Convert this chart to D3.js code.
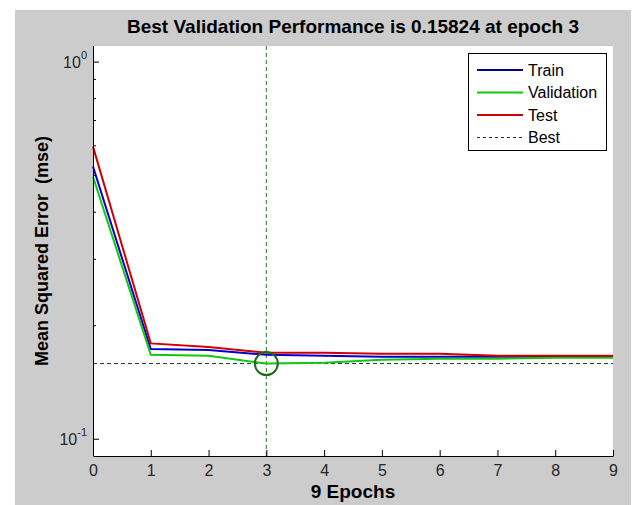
<!DOCTYPE html>
<html>
<head>
<meta charset="utf-8">
<script src="https://cdn.jsdelivr.net/npm/d3@7"></script>
<style>
  body { margin: 0; background: #ffffff; }
  svg { display: block; font-family: "Liberation Sans", Arial, sans-serif; }
</style>
</head>
<body>
<script>
// data
var epochs = [0, 1, 2, 3, 4, 5, 6, 7, 8, 9]
var train = [0.527, 0.173, 0.172, 0.167, 0.166, 0.165, 0.165, 0.165, 0.165, 0.165]
var validation = [0.495, 0.167, 0.166, 0.15824, 0.159, 0.162, 0.163, 0.163, 0.164, 0.164]
var test = [0.595, 0.179, 0.175, 0.169, 0.169, 0.168, 0.168, 0.166, 0.166, 0.166]
var bestEpoch = 3
var bestValue = 0.15824
var yMajor = [0.1, 1]
var yMajorExp = ["-1", "0"]
var yMinor = [0.2, 0.3, 0.4, 0.5, 0.6, 0.7, 0.8, 0.9]
var legendNames = ["Train", "Validation", "Test", "Best"]

var w = 635
var h = 505

var svg = d3.select("body")
  .append("svg")
  .attr("width", w)
  .attr("height", h)

// gray figure panel
svg.append("rect")
  .attr("x", 15).attr("y", 10)
  .attr("width", 616).attr("height", 495)
  .attr("fill", "#cccccc")

// axes box
var axL = 93, axR = 613, axT = 46, axB = 456

svg.append("rect")
  .attr("x", axL).attr("y", axT)
  .attr("width", axR - axL).attr("height", axB - axT)
  .attr("fill", "#ffffff")

var xScale = d3.scaleLinear()
  .domain([0, 9])
  .range([axL, axR])
var yScale = d3.scaleLog()
  .domain([0.09, 1.1])
  .range([axB, axT])

// best lines
svg.append("line")
  .attr("x1", xScale(bestEpoch)).attr("x2", xScale(bestEpoch))
  .attr("y1", axT).attr("y2", axB)
  .attr("stroke", "#1f7f1f")
  .attr("stroke-width", 1)
  .attr("stroke-dasharray", "4,3")
svg.append("line")
  .attr("x1", axL).attr("x2", axR)
  .attr("y1", yScale(bestValue)).attr("y2", yScale(bestValue))
  .attr("stroke", "#203520")
  .attr("stroke-width", 1)
  .attr("stroke-dasharray", "4,3")

// series
var series = [
  {name: "Train", values: train, color: "#0000d0"},
  {name: "Validation", values: validation, color: "#10c810"},
  {name: "Test", values: test, color: "#d00000"}
]

var line = d3.line()
  .x(function(d, i) { return xScale(epochs[i]) })
  .y(function(d) { return yScale(d) })

series.forEach(function(s) {
  svg.append("path")
    .datum(s.values)
    .attr("d", line)
    .attr("fill", "none")
    .attr("stroke", s.color)
    .attr("stroke-width", 2)
})

// best circle
svg.append("circle")
  .attr("cx", xScale(bestEpoch))
  .attr("cy", yScale(bestValue))
  .attr("r", 11.5)
  .attr("fill", "none")
  .attr("stroke", "#1a6a1a")
  .attr("stroke-width", 2)

// x axis
var xAxis = svg.append("g")
  .attr("transform", "translate(0," + axB + ")")
  .call(d3.axisBottom(xScale).tickValues(epochs).tickSizeInner(-6).tickSizeOuter(0).tickPadding(9))
xAxis.select(".domain").attr("stroke", "#000")
xAxis.selectAll(".tick line").attr("stroke", "#000")
xAxis.selectAll(".tick text")
  .attr("font-size", 16)
  .attr("font-family", "Liberation Sans, Arial, sans-serif")
  .attr("fill", "#262626")

// y axis (major + minor ticks)
var yAxis = svg.append("g")
  .attr("transform", "translate(" + axL + ",0)")
  .call(d3.axisLeft(yScale).tickValues(yMajor).tickSizeInner(-6).tickSizeOuter(0).tickFormat(""))
yAxis.select(".domain").attr("d", "M0.5," + axT + "V" + axB).attr("stroke", "#000")
yAxis.selectAll(".tick line").attr("stroke", "#000")

var yMinorAxis = svg.append("g")
  .attr("transform", "translate(" + axL + ",0)")
  .call(d3.axisLeft(yScale).tickValues(yMinor).tickSizeInner(-3).tickSizeOuter(0).tickFormat(""))
yMinorAxis.select(".domain").remove()
yMinorAxis.selectAll(".tick line").attr("stroke", "#000")

// y tick labels 10^n
yMajor.forEach(function(v, i) {
  var t = svg.append("text")
    .attr("x", axL - 6)
    .attr("y", yScale(v) + 6)
    .attr("text-anchor", "end")
    .attr("font-size", 16)
    .attr("fill", "#262626")
  t.append("tspan").text("10")
  t.append("tspan")
    .attr("font-size", 11)
    .attr("dy", -9)
    .text(yMajorExp[i])
})

// title and axis labels
svg.append("text")
  .attr("x", (axL + axR) / 2)
  .attr("y", 33)
  .attr("text-anchor", "middle")
  .attr("font-size", 19)
  .attr("font-weight", "bold")
  .attr("fill", "#000")
  .text("Best Validation Performance is 0.15824 at epoch 3")

svg.append("text")
  .attr("x", (axL + axR) / 2)
  .attr("y", 498)
  .attr("text-anchor", "middle")
  .attr("font-size", 19)
  .attr("font-weight", "bold")
  .attr("fill", "#000")
  .text("9 Epochs")

svg.append("text")
  .attr("transform", "translate(48," + ((axT + axB) / 2) + ") rotate(-90)")
  .attr("text-anchor", "middle")
  .attr("font-size", 18)
  .attr("font-weight", "bold")
  .attr("fill", "#000")
  .style("white-space", "pre")
  .text("Mean Squared Error  (mse)")

// legend
var legend = svg.append("g").attr("transform", "translate(468,53)")
legend.append("rect")
  .attr("x", 0.5).attr("y", 0.5)
  .attr("width", 138).attr("height", 97)
  .attr("fill", "#fff")
  .attr("stroke", "#000")

var legendColors = ["#00008a", "#10c810", "#d00000", "#203520"]
legendNames.forEach(function(name, i) {
  var yy = 17 + i * 22.5
  legend.append("line")
    .attr("x1", 9).attr("x2", 55)
    .attr("y1", yy).attr("y2", yy)
    .attr("stroke", legendColors[i])
    .attr("stroke-width", i === 3 ? 1 : 2)
    .attr("stroke-dasharray", i === 3 ? "3,3" : null)
  legend.append("text")
    .attr("x", 60)
    .attr("y", yy + 5.5)
    .attr("font-size", 16)
    .attr("fill", "#000")
    .text(name)
})
</script>
</body>
</html>
